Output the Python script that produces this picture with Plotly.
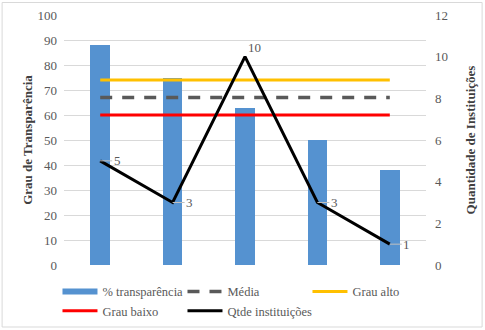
import plotly.graph_objects as go

categories = ["Cat. A", "Cat. B", "Cat. C", "Cat. D", "Cat. E"]
transparencia = [88, 75, 63, 50, 38]
media = [67, 67, 67, 67, 67]
grau_alto = [74, 74, 74, 74, 74]
grau_baixo = [60, 60, 60, 60, 60]
qtde = [5, 3, 10, 3, 1]

FONT = "Liberation Serif"
GRAY = "#595959"
BLUE = "#5592d0"

fig = go.Figure()
fig.add_trace(go.Bar(x=categories, y=transparencia, name="% transparência",
                     marker=dict(color=BLUE, line=dict(width=0)), width=0.27,
                     showlegend=False, legendgroup="bar"))
# legend entry drawn as a wide rectangle, like the original
fig.add_trace(go.Scatter(x=[None], y=[None], name="% transparência", mode="lines",
                         line=dict(color=BLUE, width=6), legendgroup="bar"))
fig.add_trace(go.Scatter(x=categories, y=media, name="Média", mode="lines",
                         line=dict(color="#595959", width=3.5, dash="12px,10px")))
fig.add_trace(go.Scatter(x=categories, y=grau_alto, name="Grau alto", mode="lines",
                         line=dict(color="#ffc000", width=3)))
fig.add_trace(go.Scatter(x=categories, y=grau_baixo, name="Grau baixo", mode="lines",
                         line=dict(color="#ff0000", width=3)))
fig.add_trace(go.Scatter(x=categories, y=qtde, name="Qtde instituições", mode="lines",
                         line=dict(color="#000000", width=3), yaxis="y2"))

for i, v in enumerate(qtde):
    if v == max(qtde):
        fig.add_annotation(x=i, y=v, xref="x", yref="y2", text=str(v), showarrow=False,
                           xshift=9, yshift=9, font=dict(family=FONT, size=13, color=GRAY))
    else:
        fig.add_annotation(x=i, y=v, xref="x", yref="y2", text=str(v), showarrow=True,
                           ax=17, ay=0, arrowhead=0, arrowwidth=1, arrowcolor="#bfbfbf",
                           standoff=0, font=dict(family=FONT, size=13, color=GRAY))

fig.update_layout(
    width=485, height=330,
    margin=dict(l=64, r=59, t=15, b=65, autoexpand=False),
    paper_bgcolor="white", plot_bgcolor="white",
    font=dict(family=FONT, size=13, color=GRAY),
    bargap=0,
    xaxis=dict(showticklabels=False, showgrid=False, zeroline=False, showline=False,
               ticks="", range=[-0.5, 4.5]),
    yaxis=dict(range=[0, 100], dtick=10, gridcolor="#d9d9d9", gridwidth=1, zeroline=False,
               showline=False, ticks="", ticklabelstandoff=6,
               tickfont=dict(family=FONT, size=13, color=GRAY),
               title=dict(text="<b>Grau de Transparência</b>", standoff=1,
                          font=dict(family=FONT, size=13, color="#404040"))),
    yaxis2=dict(range=[0, 12], dtick=2, overlaying="y", side="right", showgrid=False,
                zeroline=False, showline=False, ticks="", ticklabelstandoff=8,
                tickfont=dict(family=FONT, size=13, color=GRAY),
                title=dict(text="<b>Quantidade de Instituições</b>", standoff=18,
                           font=dict(family=FONT, size=13, color="#404040"))),
    legend=dict(orientation="h", x=-0.018, xanchor="left", y=-0.047, yanchor="top",
                entrywidth=75, entrywidthmode="pixels", traceorder="normal",
                font=dict(family=FONT, size=12.5, color=GRAY), itemwidth=35,
                tracegroupgap=0),
    showlegend=True,
    shapes=[dict(type="rect", xref="paper", yref="paper", x0=-0.171, x1=1.155,
                 y0=-0.248, y1=1.05, line=dict(color="#d9d9d9", width=1))],
)

fig.write_html("out.html", config={"displayModeBar": False},
               post_script="document.body.style.margin='0';")
